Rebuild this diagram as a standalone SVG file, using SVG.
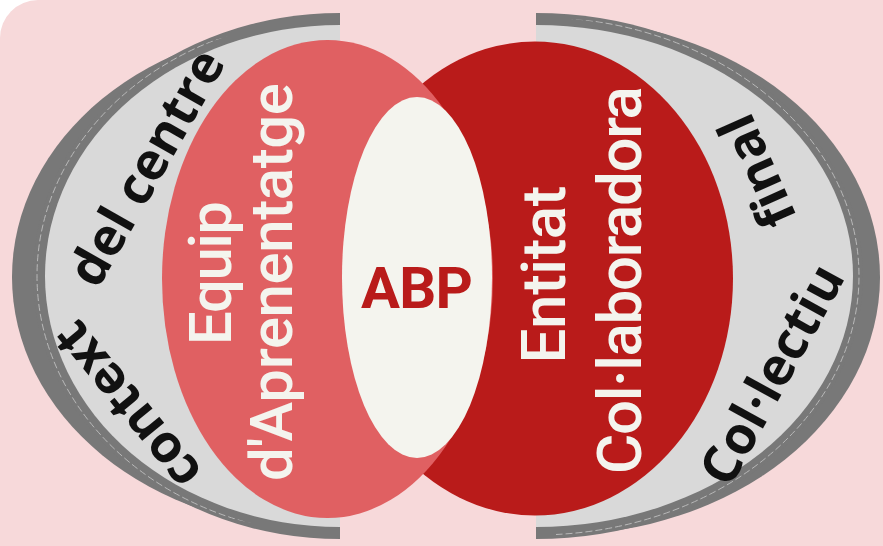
<svg xmlns="http://www.w3.org/2000/svg" width="883" height="546" viewBox="0 0 883 546">
<defs>
<style>
.dark{fill:#787878}
.light{fill:#d9d9d9}
.dash{fill:none;stroke:#b9b9b9;stroke-width:1;stroke-dasharray:7 3}
.ring{font-family:"Open Sans","DejaVu Sans",sans-serif;font-weight:700;font-size:52px;fill:#111;text-anchor:middle}
.lbl{font-family:Roboto,"Liberation Sans",sans-serif;font-weight:500;fill:#f4f4ee;text-anchor:middle}
</style>
<clipPath id="clipL"><path d="M320,25 A308,252 0 0 0 320,529 Z"/></clipPath>
<clipPath id="clipR"><path d="M556,19 A324,258 0 0 1 556,535 Z"/></clipPath>
</defs>
<rect x="0" y="0" width="960" height="620" rx="38" fill="#f7d9da"/>
<g id="context">
<path class="dark" d="M320,25 A308,252 0 0 0 320,529 Z"/>
<path class="dark" d="M340,13 A307,263 0 0 0 340,539 Z"/>
<path class="dash" clip-path="url(#clipL)" d="M340,17 A303,259 0 0 0 340,535"/>
<path class="light" d="M340,25 A295,251 0 0 0 340,527 Z"/>
<text class="ring" transform="translate(141,394.5) rotate(230.8)">context</text>
<text class="ring" transform="translate(162,176.4) rotate(-60.5)">del centre</text>
</g>
<g id="collectiu">
<path class="dark" d="M556,19 A324,258 0 0 1 556,535 Z"/>
<path class="dark" d="M536,13 A327,263 0 0 1 536,539 Z"/>
<path class="dash" clip-path="url(#clipR)" d="M536,17 A323,259 0 0 1 536,535"/>
<path class="light" d="M536,25 A317,251 0 0 1 536,527 Z"/>
<text class="ring" transform="translate(787.7,383.2) rotate(-61.3)">Col·lectiu</text>
<text class="ring" transform="translate(773.7,163.9) rotate(246)">final</text>
</g>
<g id="entitat">
<ellipse cx="535" cy="278.5" rx="198" ry="237" fill="#b91b1a"/>
<text class="lbl" font-size="62" transform="translate(565,274.5) rotate(-90)" textLength="178">Entitat</text>
<text class="lbl" font-size="62" transform="translate(641,280) rotate(-90)" textLength="388">Col·laboradora</text>
</g>
<g id="equip">
<ellipse cx="327.5" cy="279" rx="165.5" ry="239" fill="#e06062"/>
<text class="lbl" font-size="60" transform="translate(231,273) rotate(-90)" textLength="144">Equip</text>
<text class="lbl" font-size="60" transform="translate(292,282) rotate(-90)" textLength="398">d'Aprenentatge</text>
</g>
<g id="abp">
<ellipse cx="417" cy="277.5" rx="75" ry="180.5" fill="#f4f4ee"/>
<text x="417" y="308" font-family="Roboto,'Liberation Sans',sans-serif" font-weight="700" font-size="58" fill="#b91b1a" text-anchor="middle" textLength="112">ABP</text>
</g>
</svg>
